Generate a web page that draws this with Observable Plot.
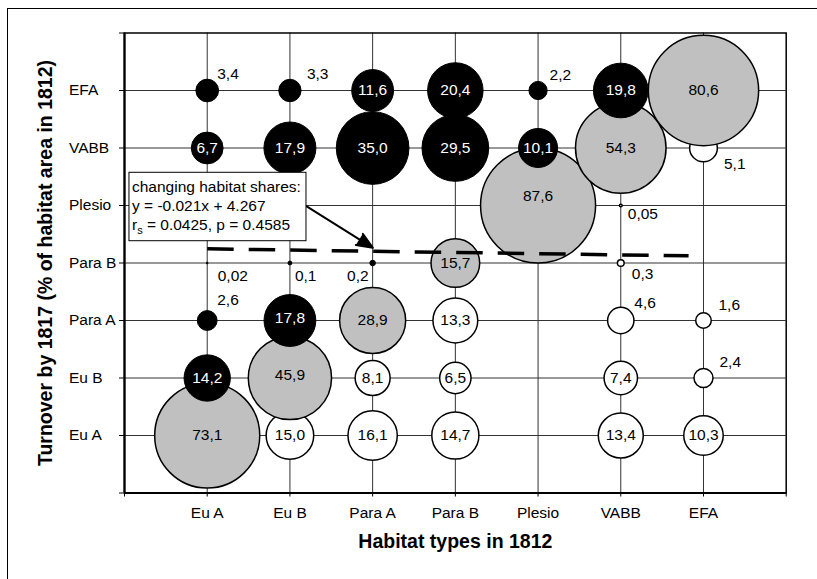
<!DOCTYPE html>
<html><head><meta charset="utf-8">
<script src="https://cdn.jsdelivr.net/npm/d3@7"></script>
<script src="https://cdn.jsdelivr.net/npm/@observablehq/plot@0.6"></script>
<style>
body{margin:0;background:#fff}
#wrap{position:relative;width:817px;height:579px;overflow:hidden;background:#fff}
#border{position:absolute;left:6.5px;top:7.5px;width:1000px;height:1000px;border:1.5px solid #000;pointer-events:none}
</style></head><body>
<div id="wrap"><div id="chart"></div><div id="border"></div></div>
<script>
// Habitat categories (x: 1812, y: 1817)
const habitats = ["Eu A", "Eu B", "Para A", "Para B", "Plesio", "VABB", "EFA"];
// % of each 1812 habitat area found in each 1817 habitat (same order as habitats); null = none
const fromEuA   = [73.1, 14.2, 2.6, 0.02, null, 6.7, 3.4];
const fromEuB   = [15.0, 45.9, 17.8, 0.1, null, 17.9, 3.3];
const fromParaA = [16.1, 8.1, 28.9, 0.2, null, 35.0, 11.6];
const fromParaB = [14.7, 6.5, 13.3, 15.7, null, 29.5, 20.4];
const fromPlesio= [null, null, null, null, 87.6, 10.1, 2.2];
const fromVABB  = [13.4, 7.4, 4.6, 0.3, 0.05, 54.3, 19.8];
const fromEFA   = [10.3, 2.4, 1.6, null, null, 5.1, 80.6];
// trend line
const trendX = [1, 6.82];
const trendY = [4.246, 4.124];
const xTitle = "Habitat types in 1812";
const yTitle = "Turnover by 1817 (% of habitat area in 1812)";
const eqLines = ["changing habitat shares:", "y = -0.021x + 4.267", "rs = 0.0425, p = 0.4585"];

const columns = [fromEuA, fromEuB, fromParaA, fromParaB, fromPlesio, fromVABB, fromEFA];
const cells = [];
columns.forEach((col, xi) => col.forEach((v, yi) => {
  if (v == null) return;
  cells.push({x: xi + 1, y: yi + 1, v,
    kind: yi > xi ? "black" : yi === xi ? "gray" : "white",
    label: v.toFixed(v < 0.095 ? 2 : 1).replace(".", ",")});
}));

// label placement (pixel offsets from bubble centre)
const outside = {
  "1,7": [10, -16, "start"], "2,7": [17, -16, "start"], "5,7": [11.5, -15, "start"],
  "1,3": [10, -20, "start"], "1,4": [10.5, 13, "start"], "2,4": [5, 13, "start"],
  "3,4": [-4, 13, "end"], "6,4": [11, 11, "start"], "6,5": [7, 8.5, "start"],
  "7,6": [20.5, 16, "start"], "6,3": [13.5, -17.5, "start"], "7,3": [15, -15.5, "start"],
  "7,2": [16, -16, "start"]
};
const insideDy = {"5,5": -9, "2,2": -2.5, "2,3": -2};

const labelMarks = cells.map(c => {
  const key = c.x + "," + c.y;
  const o = outside[key];
  if (o) return Plot.text([c], {x: "x", y: "y", text: "label", dx: o[0], dy: o[1], textAnchor: o[2], fill: "#000"});
  return Plot.text([c], {x: "x", y: "y", text: "label", dy: insideDy[key] || 0,
    fill: c.kind === "black" ? "#fff" : "#000"});
});

const trend = trendX.map((x, i) => ({x, y: trendY[i]}));
const box = [{x1: 0.06, x2: 2.2, y1: 4.379, y2: 5.569}];
const eq = eqLines.map((t, i) => ({t, x: 0.06, y: [5.318, 4.988, 4.664][i]}));
const arrow = [{x1: 2.198, y1: 4.988, x2: 3.003, y2: 4.264}];
const ticks = d3.range(0, 9);
const cats = d3.range(1, 8);

const chart = Plot.plot({
  width: 817, height: 579,
  marginLeft: 124, marginRight: 31.3, marginTop: 32.5, marginBottom: 86.5,
  x: {domain: [0, 8]},
  y: {domain: [0, 8]},
  r: {type: "sqrt", domain: [0, 87.6], range: [0, 57.5]},
  style: {fontFamily: "'Liberation Sans', Arial, sans-serif", fontSize: "15.5px", background: "transparent", color: "#000", overflow: "visible"},
  marks: [
    Plot.gridX(cats, {stroke: "#333", strokeOpacity: 1, strokeWidth: 1}),
    Plot.gridY(cats, {stroke: "#333", strokeOpacity: 1, strokeWidth: 1}),
    Plot.axisX(ticks, {tickSize: 4, tickPadding: 10, tickFormat: d => habitats[d - 1] ?? "", label: null}),
    Plot.axisY(ticks, {tickSize: 5, tickFormat: () => "", label: null}),
    Plot.text(cats, {y: d => d, text: d => habitats[d - 1], frameAnchor: "left", textAnchor: "start", dx: -55.5, fill: "#000"}),
    Plot.frame({stroke: "#000", strokeWidth: 1.5}),
    Plot.ruleX([0], {stroke: "#000", strokeWidth: 2.2}),
    Plot.ruleY([0], {stroke: "#000", strokeWidth: 2.2}),
    Plot.dot(cells.filter(c => c.kind === "white"), {x: "x", y: "y", r: "v", fill: "#fff", stroke: "#000", strokeWidth: 1.5, sort: null}),
    Plot.dot(cells.filter(c => c.kind === "gray"), {x: "x", y: "y", r: "v", fill: "#c0c0c0", stroke: "#000", strokeWidth: 1.5, sort: null}),
    Plot.dot(cells.filter(c => c.kind === "black"), {x: "x", y: "y", r: "v", fill: "#000", stroke: "#000", strokeWidth: 1, sort: null}),
    Plot.line(trend, {x: "x", y: "y", stroke: "#000", strokeWidth: 3.5, strokeDasharray: "26.5 15", strokeLinecap: "butt"}),
    ...labelMarks,
    Plot.arrow(arrow, {x1: "x1", y1: "y1", x2: "x2", y2: "y2", stroke: "#000", strokeWidth: 2, headLength: 13, headAngle: 45}),
    Plot.rect(box, {x1: "x1", x2: "x2", y1: "y1", y2: "y2", fill: "#fff", stroke: "#000", strokeWidth: 1}),
    Plot.text(eq, {x: "x", y: "y", text: "t", textAnchor: "start", dx: 2.5, fill: "#000"}),
    Plot.text([xTitle], {frameAnchor: "bottom", textAnchor: "middle", lineAnchor: "middle", dy: 48.7, text: d => d, fontWeight: "bold", fontSize: 19.5, fill: "#000"}),
    Plot.text([yTitle], {frameAnchor: "left", textAnchor: "middle", lineAnchor: "middle", rotate: -90, dx: -79, text: d => d, fontWeight: "bold", fontSize: 19.5, fill: "#000"})
  ]
});
document.getElementById("chart").appendChild(chart);

// filled arrow head
d3.select(chart).selectAll("g[aria-label='arrow'] path").attr("fill", "#000");
// subscript s in r_s
d3.select(chart).selectAll("text").filter(function () { return this.textContent === eqLines[2]; })
  .each(function () {
    const t = d3.select(this);
    const rest = eqLines[2].slice(2);
    t.text("");
    t.append("tspan").text("r");
    t.append("tspan").attr("font-size", "11px").attr("dy", "4").text("s");
    t.append("tspan").attr("dy", "-4").text(rest);
  });
</script>
</body></html>
